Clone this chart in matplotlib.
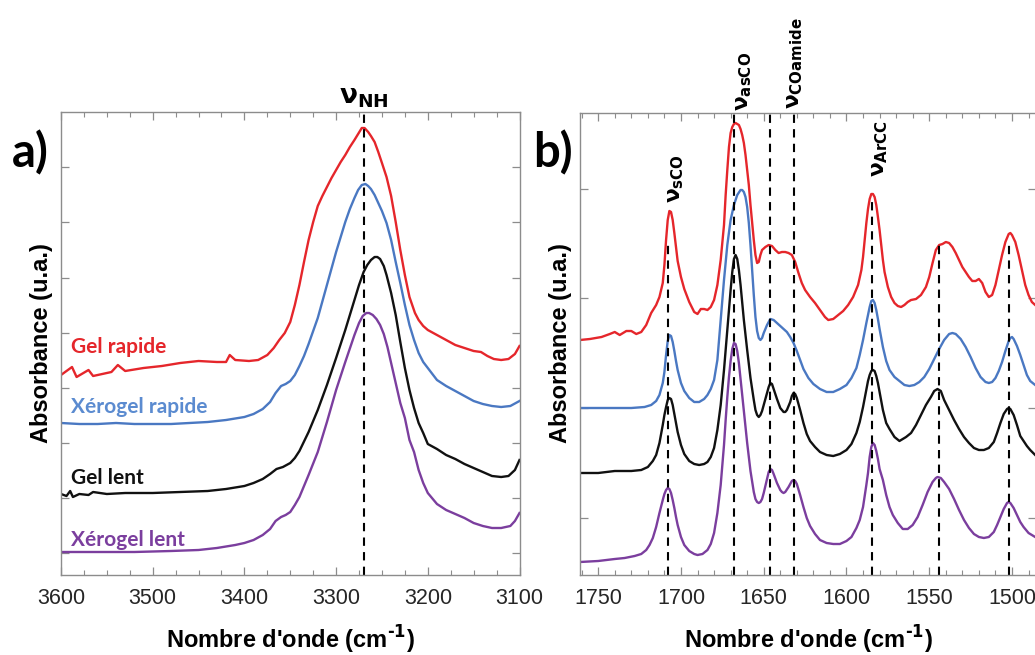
import numpy as np
import matplotlib
matplotlib.use('Agg')
import matplotlib.pyplot as plt
from matplotlib.ticker import MultipleLocator

plt.rcParams['font.family'] = ['Liberation Sans', 'DejaVu Sans']
plt.rcParams['mathtext.default'] = 'bf'

# ---------- panel a : 3600-3100 cm-1 (absorbance, arbitrary units) ----------
red_a_wn = [3600, 3588, 3583, 3570, 3565, 3545, 3538, 3530, 3510, 3490, 3470, 3450, 3430, 3420, 3416,
            3410, 3395, 3385, 3375, 3368, 3362, 3356, 3350, 3345, 3340, 3335, 3330, 3325, 3320, 3315,
            3310, 3305, 3300, 3295, 3290, 3285, 3280, 3276, 3272, 3269, 3265, 3262, 3258, 3254, 3250,
            3245, 3240, 3235, 3230, 3225, 3220, 3217, 3214, 3210, 3205, 3200, 3190, 3180, 3170, 3160,
            3150, 3142, 3135, 3128, 3120, 3112, 3105, 3100]
red_a_abs = [200, 208, 198, 205, 199, 203, 210, 204, 207, 209, 212, 214, 213, 213, 220,
             215, 214, 215, 220, 227, 235, 242, 253, 270, 290, 313, 335, 353, 369, 379,
             388, 397, 405, 413, 420, 428, 435, 441, 447, 447, 443, 439, 433, 423, 412,
             398, 379, 353, 325, 300, 278, 270, 262, 255, 249, 245, 240, 235, 230, 227,
             224, 223, 219, 216, 215, 216, 221, 229]

blue_a_wn = [3600, 3580, 3560, 3540, 3520, 3500, 3480, 3460, 3440, 3420, 3400, 3390, 3380, 3372, 3366,
             3360, 3355, 3350, 3345, 3340, 3335, 3330, 3320, 3310, 3300, 3290, 3285, 3280, 3276, 3272,
             3268, 3265, 3262, 3258, 3255, 3250, 3245, 3240, 3235, 3230, 3225, 3220, 3215, 3210, 3205,
             3200, 3190, 3180, 3170, 3160, 3150, 3140, 3130, 3120, 3110, 3100]
blue_a_abs = [152, 151, 151, 152, 151, 151, 151, 152, 153, 155, 158, 161, 166, 173, 182,
              189, 191, 194, 200, 209, 219, 231, 257, 290, 323, 353, 366, 377, 385, 390,
              391, 389, 386, 380, 374, 364, 352, 335, 313, 292, 270, 250, 235, 222, 213,
              207, 195, 189, 184, 179, 174, 171, 169, 168, 169, 174]

black_a_wn = [3600, 3594, 3590, 3587, 3580, 3570, 3565, 3550, 3530, 3500, 3470, 3440, 3420, 3400, 3390,
              3380, 3372, 3365, 3358, 3350, 3345, 3340, 3330, 3320, 3310, 3300, 3290, 3280, 3275, 3270,
              3266, 3262, 3258, 3255, 3252, 3248, 3245, 3240, 3235, 3230, 3225, 3220, 3215, 3210, 3205,
              3200, 3190, 3180, 3170, 3160, 3150, 3140, 3130, 3120, 3112, 3105, 3100]
black_a_abs = [81, 79, 84, 78, 81, 80, 83, 81, 82, 82, 83, 84, 86, 89, 92,
               96, 101, 106, 108, 112, 117, 124, 143, 165, 190, 217, 245, 275, 290, 303,
               310, 315, 318, 318, 316, 309, 300, 282, 260, 233, 207, 185, 167, 152, 142,
               131, 126, 120, 116, 111, 107, 103, 99, 98, 99, 105, 115]

purple_a_wn = [3600, 3560, 3520, 3480, 3450, 3430, 3410, 3400, 3390, 3380, 3372, 3366, 3360, 3355, 3350,
               3345, 3340, 3330, 3320, 3310, 3300, 3290, 3280, 3275, 3271, 3267, 3264, 3260, 3256, 3252,
               3248, 3244, 3240, 3235, 3230, 3225, 3220, 3215, 3210, 3205, 3200, 3190, 3180, 3170, 3160,
               3150, 3140, 3130, 3120, 3110, 3105, 3100]
purple_a_abs = [23, 23, 23, 24, 25, 27, 30, 32, 35, 40, 46, 54, 58, 60, 63,
                70, 78, 100, 123, 153, 185, 213, 240, 252, 259, 262, 262, 260, 256, 250,
                241, 228, 212, 192, 172, 157, 135, 123, 105, 92, 82, 71, 65, 61, 57,
                52, 49, 47, 47, 49, 54, 62]

# ---------- panel b : 1760-1485 cm-1 ----------
red_b_wn = [1761, 1755, 1748, 1743, 1740, 1737, 1733, 1730, 1727, 1724, 1721, 1718, 1715, 1713, 1711,
            1710, 1709, 1708, 1707, 1706, 1705, 1704, 1703, 1702, 1700, 1698, 1695, 1692, 1690, 1688,
            1686, 1684, 1682, 1680, 1678, 1676, 1674, 1673, 1672, 1671, 1670, 1669, 1668, 1667, 1666,
            1665, 1664, 1663, 1662, 1661, 1660, 1659, 1658, 1657, 1656, 1655, 1654, 1653, 1652, 1651,
            1649, 1647, 1645, 1643, 1641, 1639, 1637, 1635, 1633, 1631, 1629, 1627, 1625, 1622, 1619,
            1616, 1613, 1611, 1608, 1605, 1602, 1599, 1596, 1593, 1591, 1590, 1589, 1588, 1587, 1586,
            1585, 1584, 1583, 1582, 1581, 1580, 1579, 1578, 1577, 1575, 1573, 1571, 1569, 1567, 1565,
            1563, 1561, 1558, 1555, 1552, 1550, 1548, 1546, 1544, 1542, 1540, 1538, 1536, 1534, 1532,
            1530, 1528, 1526, 1524, 1522, 1520, 1518, 1516, 1514, 1512, 1510, 1508, 1506, 1504, 1502,
            1501, 1500, 1498, 1496, 1494, 1492, 1490, 1488, 1486]
red_b_abs = [235, 236, 238, 241, 243, 240, 244, 244, 241, 243, 250, 262, 270, 278, 292,
             310, 335, 355, 364, 363, 355, 342, 328, 314, 298, 286, 273, 263, 261, 266,
             266, 265, 268, 275, 290, 315, 350, 380, 405, 428, 442, 448, 451, 452, 451,
             450, 446, 440, 432, 420, 405, 390, 370, 352, 335, 320, 312, 313, 320, 325,
             328, 330, 329, 325, 322, 323, 323, 322, 320, 313, 302, 292, 285, 278, 272,
             265, 258, 255, 256, 260, 264, 270, 278, 290, 305, 318, 335, 352, 366, 376,
             381, 381, 378, 370, 358, 345, 330, 315, 303, 288, 278, 272, 269, 268, 270,
             273, 275, 276, 280, 288, 298, 312, 325, 330, 331, 333, 332, 328, 322, 315,
             308, 303, 298, 294, 294, 296, 292, 283, 278, 280, 290, 305, 320, 333, 341,
             342, 340, 333, 320, 305, 290, 280, 273, 270]

blue_b_wn = [1761, 1745, 1730, 1722, 1718, 1715, 1713, 1711, 1710, 1709, 1708, 1707, 1706, 1705, 1704,
             1703, 1702, 1700, 1698, 1695, 1692, 1689, 1686, 1684, 1682, 1680, 1678, 1676, 1674, 1672,
             1670, 1668, 1666, 1664, 1663, 1662, 1661, 1660, 1659, 1658, 1657, 1656, 1655, 1654, 1653,
             1652, 1651, 1650, 1648, 1646, 1644, 1642, 1640, 1638, 1636, 1634, 1632, 1630, 1628, 1626,
             1623, 1620, 1616, 1612, 1608, 1604, 1600, 1597, 1594, 1592, 1590, 1588, 1586, 1585, 1584,
             1583, 1582, 1581, 1580, 1578, 1576, 1574, 1571, 1568, 1565, 1562, 1559, 1556, 1553, 1550,
             1547, 1544, 1541, 1538, 1536, 1534, 1531, 1528, 1525, 1522, 1519, 1516, 1514, 1512, 1510,
             1508, 1506, 1504, 1502, 1501, 1500, 1499, 1497, 1495, 1493, 1491, 1489, 1486]
blue_b_abs = [167, 167, 167, 168, 170, 174, 180, 192, 203, 220, 234, 240, 239, 233, 224,
              214, 205, 192, 184, 177, 173, 173, 176, 180, 186, 195, 215, 255, 295, 330,
              355, 370, 380, 385, 385, 383, 378, 368, 352, 330, 305, 280, 258, 244, 237,
              235, 237, 242, 250, 256, 255, 252, 249, 246, 243, 238, 232, 224, 215, 206,
              197, 191, 186, 183, 183, 186, 190, 197, 207, 220, 235, 252, 268, 274, 275,
              272, 265, 256, 246, 228, 214, 205, 198, 194, 190, 189, 190, 193, 198, 206,
              216, 226, 235, 241, 242, 241, 236, 228, 218, 207, 198, 193, 192, 193, 197,
              204, 213, 224, 234, 237, 238, 236, 229, 220, 210, 200, 194, 190]

black_b_wn = [1761, 1750, 1740, 1730, 1724, 1720, 1717, 1715, 1713, 1711, 1710, 1709, 1708, 1707, 1706,
              1705, 1704, 1703, 1702, 1700, 1698, 1695, 1692, 1689, 1686, 1684, 1682, 1680, 1678, 1676,
              1674, 1672, 1671, 1670, 1669, 1668, 1667, 1666, 1665, 1664, 1663, 1662, 1660, 1658, 1656,
              1655, 1654, 1653, 1652, 1651, 1650, 1648, 1647, 1646, 1645, 1644, 1642, 1640, 1638, 1637,
              1636, 1634, 1633, 1632, 1631, 1630, 1628, 1626, 1624, 1622, 1619, 1616, 1612, 1608, 1604,
              1600, 1597, 1594, 1592, 1590, 1588, 1587, 1586, 1585, 1584, 1583, 1582, 1581, 1580, 1578,
              1576, 1574, 1571, 1568, 1566, 1564, 1561, 1558, 1555, 1552, 1549, 1547, 1545, 1543, 1541,
              1538, 1535, 1532, 1529, 1526, 1523, 1520, 1517, 1514, 1511, 1509, 1507, 1505, 1503, 1502,
              1501, 1499, 1497, 1495, 1493, 1491, 1489, 1486]
black_b_abs = [102, 102, 104, 104, 105, 108, 114, 120, 132, 150, 160, 168, 175, 177, 176,
               170, 161, 152, 143, 130, 121, 114, 111, 110, 111, 113, 118, 127, 145, 170,
               205, 245, 265, 285, 303, 316, 320, 316, 305, 290, 272, 255, 225, 197, 175,
               165, 160, 158, 160, 164, 170, 182, 188, 192, 191, 186, 176, 167, 163, 163,
               165, 173, 179, 182, 181, 177, 165, 152, 141, 134, 128, 123, 120, 119, 121,
               125, 131, 142, 153, 168, 185, 194, 200, 204, 205, 204, 199, 192, 183, 165,
               152, 146, 138, 134, 136, 138, 142, 150, 160, 170, 178, 184, 186, 184, 175,
               165, 155, 146, 138, 132, 127, 125, 125, 127, 133, 142, 152, 161, 166, 167,
               166, 160, 150, 139, 134, 129, 125, 120]

purple_b_wn = [1761, 1750, 1740, 1734, 1728, 1724, 1721, 1719, 1717, 1715, 1713, 1711, 1710, 1709, 1708,
               1707, 1706, 1705, 1704, 1703, 1702, 1700, 1698, 1695, 1692, 1690, 1687, 1684, 1682, 1680,
               1678, 1676, 1674, 1673, 1672, 1671, 1670, 1669, 1668, 1667, 1666, 1665, 1664, 1663, 1662,
               1660, 1658, 1656, 1655, 1654, 1653, 1652, 1651, 1650, 1648, 1647, 1646, 1645, 1644, 1642,
               1640, 1639, 1638, 1637, 1635, 1633, 1632, 1631, 1630, 1628, 1626, 1624, 1622, 1619, 1616,
               1612, 1608, 1604, 1600, 1597, 1594, 1592, 1590, 1588, 1587, 1586, 1585, 1584, 1583, 1582,
               1581, 1580, 1578, 1576, 1574, 1572, 1569, 1566, 1563, 1560, 1557, 1554, 1551, 1548, 1546,
               1545, 1543, 1541, 1538, 1535, 1532, 1529, 1526, 1523, 1520, 1517, 1514, 1511, 1509, 1507,
               1505, 1503, 1502, 1501, 1499, 1497, 1495, 1493, 1490, 1486]
purple_b_abs = [13, 14, 16, 17, 19, 21, 25, 30, 37, 48, 62, 75, 81, 85, 87,
                86, 82, 75, 67, 58, 50, 38, 30, 24, 21, 20, 21, 25, 31, 42,
                62, 90, 130, 155, 178, 198, 214, 226, 232, 231, 224, 212, 196, 180, 163,
                132, 104, 83, 76, 73, 72, 73, 76, 82, 96, 103, 106, 105, 101, 92,
                85, 83, 82, 83, 88, 94, 95, 94, 91, 80, 68, 57, 49, 41, 35,
                32, 31, 31, 34, 38, 47, 55, 68, 90, 102, 118, 128, 132, 130, 124,
                116, 106, 95, 80, 68, 60, 52, 46, 46, 50, 58, 70, 83, 93, 97,
                98, 97, 93, 86, 76, 65, 55, 47, 41, 38, 37, 38, 43, 50, 58,
                66, 72, 73, 72, 67, 60, 53, 48, 42, 38]

# band positions (cm-1) and top of their dashed guide lines
nh_band = 3270
bands_b = [1708, 1668, 1646, 1632, 1584.5, 1544, 1502]
bands_b_top = [333, 462, 462, 462, 375, 333, 333]

names = ['Gel rapide', 'Xérogel rapide', 'Gel lent', 'Xérogel lent']
colors = ['#e5262b', '#4a78c2', '#111111', '#7b3e9e']
text_colors = ['#e5262b', '#5b8bd0', '#111111', '#7b3e9e']

series_a = [(red_a_wn, red_a_abs), (blue_a_wn, blue_a_abs), (black_a_wn, black_a_abs), (purple_a_wn, purple_a_abs)]
series_b = [(red_b_wn, red_b_abs), (blue_b_wn, blue_b_abs), (black_b_wn, black_b_abs), (purple_b_wn, purple_b_abs)]

fig = plt.figure(figsize=(10.35, 6.55), dpi=100)
W, H = 1035, 655
ax1 = fig.add_axes([61 / W, 80 / H, 458.5 / W, 463 / H])
ax2 = fig.add_axes([580 / W, 80 / H, 456 / W, 462 / H])

for ax in (ax1, ax2):
    for s in ax.spines.values():
        s.set_color('#8c8c8c')
        s.set_linewidth(1.0)
    ax.tick_params(which='both', direction='in', top=True, right=True, color='#8c8c8c',
                   labelleft=False, labelsize=15.5, labelcolor='#262626', pad=9)
    ax.tick_params(which='major', length=6, width=0.9)
    ax.tick_params(which='minor', length=3.5, width=0.8)

# panel a
for (wn, ab), c in zip(series_a, colors):
    ax1.plot(wn, ab, color=c, lw=1.7)
ax1.axvline(nh_band, color='black', ls=(0, (4, 3)), lw=1.5)
ax1.set_xlim(3600, 3100)
ax1.set_ylim(0, 463)
ax1.xaxis.set_major_locator(MultipleLocator(100))
ax1.xaxis.set_minor_locator(MultipleLocator(25))
ax1.set_yticks(np.arange(22, 420, 55.1))

label_y = [228, 168, 97, 35]
for name, tc, ly in zip(names, text_colors, label_y):
    ax1.text(3589, ly, name, color=tc, fontsize=15, fontweight='bold',
             family=['Lato', 'DejaVu Sans'], va='center', ha='left')

ax1.text(nh_band, 465, 'ν$_{NH}$', fontsize=19, fontweight='bold', family=['DejaVu Sans'],
         ha='center', va='bottom')

# panel b
for (wn, ab), c in zip(series_b, colors):
    ax2.plot(wn, ab, color=c, lw=1.7)
ax2.vlines(bands_b, 0, bands_b_top, color='black', ls=(0, (4, 3)), lw=1.5)
ax2.set_xlim(1761, 1485.5)
ax2.set_ylim(0, 462)
ax2.xaxis.set_major_locator(MultipleLocator(50))
ax2.xaxis.set_minor_locator(MultipleLocator(10))
ax2.set_yticks([57, 167, 277, 386])

band_labels = [('sCO', 1703, 372), ('asCO', 1662, 464), ('COamide', 1631, 466), ('ArCC', 1580, 398)]
for sub, x, y in band_labels:
    ax2.text(x, y, 'ν$_{' + sub + '}$', fontsize=15.5, fontweight='bold', family=['DejaVu Sans'],
             rotation=90, ha='center', va='bottom', clip_on=False)

# axis titles
for xc in ((61 + 519.5) / 2 / W, (580 + 1036) / 2 / W):
    fig.text(xc, 1 - 640 / H, "Nombre d'onde (cm$^{\u20101}$)", fontsize=17, fontweight='bold',
             ha='center', va='center')
for xc in (42 / W, 560 / W):
    fig.text(xc, 1 - 343 / H, 'Absorbance (u.a.)', fontsize=17, fontweight='bold',
             rotation=90, ha='center', va='center')

fig.text(30 / W, 1 - 153 / H, 'a)', fontsize=34, fontweight='bold', family=['Lato', 'DejaVu Sans'],
         ha='center', va='center')
fig.text(553 / W, 1 - 153 / H, 'b)', fontsize=34, fontweight='bold', family=['Lato', 'DejaVu Sans'],
         ha='center', va='center')

fig.savefig('out.png', dpi=100)
